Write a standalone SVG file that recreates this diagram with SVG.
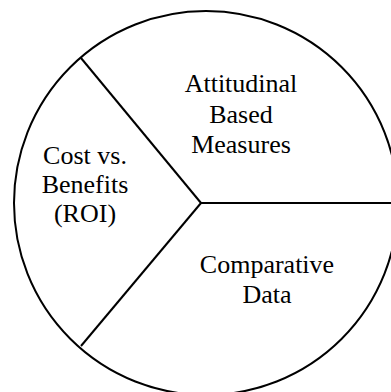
<svg xmlns="http://www.w3.org/2000/svg" width="391" height="392" viewBox="0 0 391 392">
<style>
.ln{fill:none;stroke:#000;stroke-width:2}
.t{font-family:"Liberation Serif","Times New Roman",serif;font-size:26px;fill:#000;text-anchor:middle}
</style>
<rect width="391" height="392" fill="#fff"/>
<g id="circle"><circle class="ln" cx="206" cy="203" r="192"/></g>
<g id="connectors">
<line class="ln" x1="201" y1="203" x2="81" y2="58"/>
<line class="ln" x1="201" y1="203" x2="81" y2="346"/>
<line class="ln" x1="201" y1="203" x2="400" y2="203"/>
</g>
<g id="attitudinal"><text class="t" x="241" y="92">Attitudinal</text><text class="t" x="241" y="123">Based</text><text class="t" x="241" y="153">Measures</text></g>
<g id="cost"><text class="t" x="85" y="164">Cost vs.</text><text class="t" x="85" y="193">Benefits</text><text class="t" x="85" y="222">(ROI)</text></g>
<g id="comparative"><text class="t" x="267" y="273">Comparative</text><text class="t" x="267" y="303">Data</text></g>
</svg>
